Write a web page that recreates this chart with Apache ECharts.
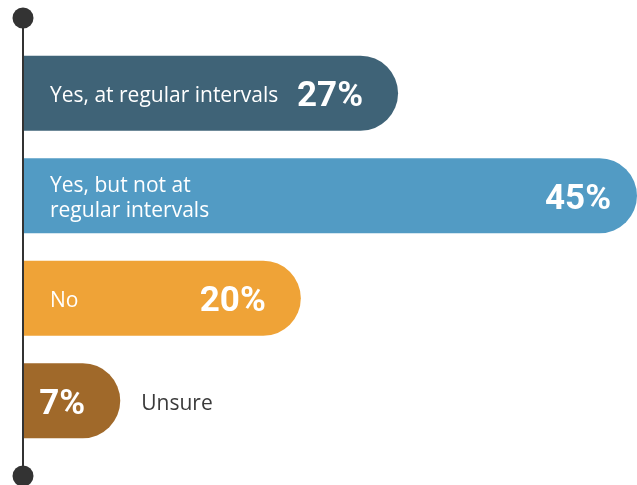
<!DOCTYPE html>
<html>
<head>
<meta charset="utf-8">
<script src="https://cdn.jsdelivr.net/npm/echarts@6/dist/echarts.min.js"></script>
<style>
  html, body { margin: 0; padding: 0; background: #fff; }
  #chart { width: 637px; height: 485px; }
</style>
</head>
<body>
<div id="chart"></div>
<script>
// survey answers, top to bottom
const categories = ['Yes, at regular intervals', 'Yes, but not at\nregular intervals', 'No', 'Unsure'];
const values = [27, 45, 20, 7];
const colors = ['#3f6377', '#529bc4', '#efa337', '#a0692a'];

const chart = echarts.init(document.getElementById('chart'));

const valueFont = { fontFamily: 'Roboto', fontWeight: 'bold', fontSize: 35, color: '#fff' };
const nameFont = { fontFamily: 'Open Sans', fontSize: 21, lineHeight: 25, color: '#fff' };

chart.setOption({
  animation: false,
  grid: { left: 23, right: 0, top: 42, height: 410 },
  xAxis: { type: 'value', min: 0, max: 44.2, show: false },
  yAxis: {
    type: 'category',
    data: categories,
    inverse: true,
    show: false
  },
  series: [
    {
      type: 'bar',
      barWidth: 75,
      data: values.map((v, i) => {
        const item = { value: v, itemStyle: { color: colors[i] } };
        // the longest bar runs into the page edge, so its figure sits a bit closer
        if (v === Math.max(...values)) item.label = { distance: 26 };
        return item;
      }),
      itemStyle: { borderRadius: [0, 37.5, 37.5, 0] },
      label: {
        show: true,
        position: 'insideRight',
        distance: 35,
        offset: [0, 4],
        formatter: p => p.value + '%',
        ...valueFont
      }
    },
    {
      // invisible twin bars that carry the answer text
      type: 'bar',
      barWidth: 75,
      barGap: '-100%',
      silent: true,
      data: values.map((v, i) => {
        const item = { value: v, name: categories[i] };
        if (i === values.length - 1) {
          item.label = { position: 'right', distance: 21, color: '#3a3a3a' };
        }
        return item;
      }),
      itemStyle: { color: 'rgba(0,0,0,0)' },
      label: {
        show: true,
        position: 'insideLeft',
        distance: 27,
        offset: [0, 3],
        formatter: p => p.name,
        ...nameFont
      }
    }
  ],
  graphic: [
    { type: 'line', z: 10, shape: { x1: 23, y1: 18, x2: 23, y2: 476 }, style: { stroke: '#333', lineWidth: 2 } },
    { type: 'circle', z: 10, shape: { cx: 23, cy: 18, r: 10.5 }, style: { fill: '#333' } },
    { type: 'circle', z: 10, shape: { cx: 23, cy: 476, r: 10.5 }, style: { fill: '#333' } }
  ]
});
</script>
</body>
</html>
